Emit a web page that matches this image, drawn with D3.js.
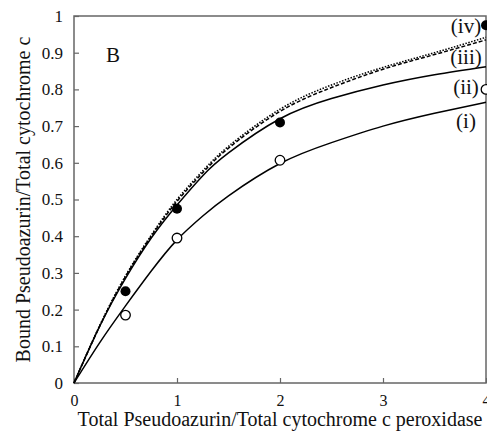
<!DOCTYPE html>
<html>
<head>
<meta charset="utf-8">
<script src="https://cdn.jsdelivr.net/npm/d3@7"></script>
<style>
html,body{margin:0;padding:0;background:#fff;}
svg{display:block;}
text{font-family:"Liberation Serif","Times New Roman",serif;fill:#111;}
</style>
</head>
<body>
<svg id="chart" width="487" height="442"></svg>
<script>
// ---- data ----
const curveX   = [0, 0.25, 0.5, 0.75, 1, 1.25, 1.5, 2, 2.5, 3, 3.5, 4];
const curveI   = [0, 0.11, 0.21, 0.305, 0.39, 0.455, 0.51, 0.598, 0.655, 0.70, 0.735, 0.765];
const curveII  = [0, 0.155, 0.285, 0.395, 0.485, 0.565, 0.627, 0.72, 0.775, 0.812, 0.84, 0.862];
const curveIII = [0, 0.155, 0.29, 0.40, 0.495, 0.573, 0.64, 0.74, 0.805, 0.855, 0.895, 0.935];
const curveIV  = [0, 0.157, 0.292, 0.403, 0.50, 0.578, 0.645, 0.746, 0.812, 0.86, 0.90, 0.942];

const pointX      = [0.5, 1, 2, 4];
const filledY     = [0.25, 0.475, 0.71, 0.975];
const openY       = [0.185, 0.395, 0.607, 0.80];

const xTicks = [0, 1, 2, 3, 4];
const yTicks = [0, 0.1, 0.2, 0.3, 0.4, 0.5, 0.6, 0.7, 0.8, 0.9, 1];
const curveLabels = ["(i)", "(ii)", "(iii)", "(iv)"];
const curveLabelY = [0.695, 0.788, 0.87, 0.955];

const xTitle = "Total Pseudoazurin/Total cytochrome c peroxidase";
const yTitle = "Bound Pseudoazurin/Total cytochrome c";
const panelLabel = "B";

// ---- layout ----
const svg = d3.select("#chart");
const L = 74, R = 486, T = 16, B = 383;
const x = d3.scaleLinear().domain([0, 4]).range([L, R]);
const y = d3.scaleLinear().domain([0, 1]).range([B, T]);
const axisColor = "#666";

// frame
svg.append("rect").attr("x", L).attr("y", T).attr("width", R - L).attr("height", B - T)
  .attr("fill", "none").attr("stroke", axisColor).attr("stroke-width", 1.5);

// y axis (inward ticks)
const yAxis = d3.axisRight(y).tickValues(yTicks).tickSize(5)
  .tickFormat(d => d === 0 ? "0" : d === 1 ? "1" : d3.format(".1f")(d));
const gy = svg.append("g").attr("transform", `translate(${L},0)`).call(yAxis);
gy.select(".domain").remove();
gy.selectAll(".tick line").attr("stroke", axisColor).attr("stroke-width", 1.2);
gy.selectAll(".tick text").attr("x", -11).attr("text-anchor", "end")
  .style("font-size", "17px").style("font-family", '"Liberation Serif",serif').attr("fill", "#111");

// x axis (inward ticks)
const xAxis = d3.axisTop(x).tickValues(xTicks).tickSize(5).tickFormat(d3.format("d"));
const gx = svg.append("g").attr("transform", `translate(0,${B})`).call(xAxis);
gx.select(".domain").remove();
gx.selectAll(".tick line").attr("stroke", axisColor).attr("stroke-width", 1.2);
gx.selectAll(".tick text").attr("y", 23).attr("dy", 0)
  .style("font-size", "16px").style("font-family", '"Liberation Serif",serif').attr("fill", "#111");

// curves
const line = d3.line().x(d => x(d[0])).y(d => y(d[1])).curve(d3.curveNatural);
const series = [
  {vals: curveI, dash: null},
  {vals: curveII, dash: null},
  {vals: curveIII, dash: "4,2"},
  {vals: curveIV, dash: "1.5,1.5"}
];
series.forEach(s => {
  svg.append("path").datum(curveX.map((cx, i) => [cx, s.vals[i]]))
    .attr("d", line).attr("fill", "none").attr("stroke", "#000")
    .attr("stroke-width", 1.5).attr("stroke-dasharray", s.dash);
});

// points
svg.selectAll("circle.filled").data(pointX.map((px, i) => [px, filledY[i]])).enter()
  .append("circle").attr("class", "filled")
  .attr("cx", d => x(d[0])).attr("cy", d => y(d[1])).attr("r", 5).attr("fill", "#000");
svg.selectAll("circle.open").data(pointX.map((px, i) => [px, openY[i]])).enter()
  .append("circle").attr("class", "open")
  .attr("cx", d => x(d[0])).attr("cy", d => y(d[1])).attr("r", 4.8)
  .attr("fill", "#fff").attr("stroke", "#000").attr("stroke-width", 1.3);

// curve labels
svg.selectAll("text.clab").data(curveLabels).enter().append("text").attr("class", "clab")
  .attr("x", 466).attr("y", (d, i) => y(curveLabelY[i])).attr("text-anchor", "middle")
  .style("font-size", "21px").text(d => d);

// panel label
svg.append("text").attr("x", x(0.31)).attr("y", 62).style("font-size", "21px").text(panelLabel);

// titles
svg.append("text").attr("x", (L + R) / 2).attr("y", 426).attr("text-anchor", "middle")
  .style("font-size", "20px").text(xTitle);
svg.append("text").attr("transform", `translate(30,${(T + B) / 2}) rotate(-90)`)
  .attr("text-anchor", "middle").style("font-size", "20px").text(yTitle);
</script>
</body>
</html>
